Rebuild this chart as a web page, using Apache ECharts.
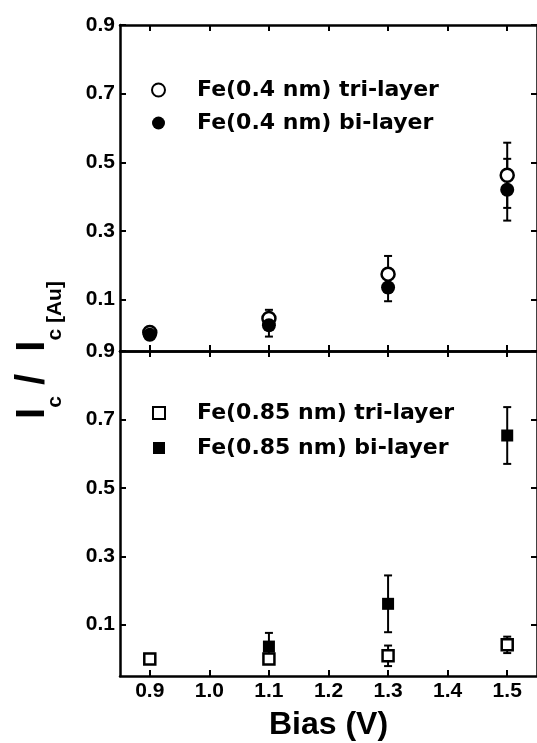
<!DOCTYPE html>
<html>
<head>
<meta charset="utf-8">
<script src="https://cdn.jsdelivr.net/npm/echarts@6/dist/echarts.min.js"></script>
<style>
  html, body { margin: 0; padding: 0; background: #fff; }
  #chart { width: 537px; height: 743px; }
</style>
</head>
<body>
<div id="chart"></div>
<script>
// bias voltage (x positions)
const biasV = [0.9, 1.1, 1.3, 1.5];
// tick labels
const xTicks = [0.9, 1.0, 1.1, 1.2, 1.3, 1.4, 1.5];
const yTicks = [0.1, 0.3, 0.5, 0.7, 0.9];

// upper panel: Fe(0.4 nm)
const tri04 = [0.004, 0.045, 0.174, 0.462];
const tri04Err = [0.005, 0.025, 0.053, 0.095];
const bi04 = [-0.003, 0.025, 0.135, 0.42];
const bi04Err = [0.005, 0.033, 0.04, 0.09];

// lower panel: Fe(0.85 nm)
const tri085 = [0.0, 0.0, 0.009, 0.041];
const tri085Err = [0.01, 0.012, 0.03, 0.024];
const bi085 = [0.0, 0.036, 0.161, 0.653];
const bi085Err = [0.005, 0.04, 0.083, 0.083];

const names = ['Fe(0.4 nm) tri-layer', 'Fe(0.4 nm) bi-layer', 'Fe(0.85 nm) tri-layer', 'Fe(0.85 nm) bi-layer'];

const font = '"Liberation Sans", Arial, Helvetica, sans-serif';

function pts(vals) {
  return biasV.map((x, i) => [x, vals[i]]);
}
function errs(vals, e) {
  return biasV.map((x, i) => [x, vals[i] - e[i], vals[i] + e[i]]);
}

// error bars drawn through the axis scales
function errRender(params, api) {
  const x = api.value(0);
  const top = api.coord([x, api.value(2)]);
  const bot = api.coord([x, api.value(1)]);
  const hw = 4;
  const st = { stroke: '#000', lineWidth: 2 };
  return {
    type: 'group',
    children: [
      { type: 'line', shape: { x1: top[0], y1: top[1], x2: bot[0], y2: bot[1] }, style: st },
      { type: 'line', shape: { x1: top[0] - hw, y1: top[1], x2: top[0] + hw, y2: top[1] }, style: st },
      { type: 'line', shape: { x1: bot[0] - hw, y1: bot[1], x2: bot[0] + hw, y2: bot[1] }, style: st }
    ]
  };
}

function xAx(grid, pos, showLabel) {
  return {
    type: 'value',
    gridIndex: grid,
    position: pos,
    min: 0.85,
    max: 1.55,
    name: showLabel ? 'Bias (V)' : '',
    nameLocation: 'middle',
    nameGap: 33,
    nameTextStyle: { fontFamily: font, fontWeight: 'bold', fontSize: 32, color: '#000' },
    axisLine: { onZero: false, lineStyle: { color: '#000', width: 2.5 } },
    axisTick: { inside: true, length: 6, customValues: xTicks, lineStyle: { color: '#000', width: 2 } },
    axisLabel: {
      show: showLabel,
      customValues: xTicks,
      margin: 5,
      fontFamily: font, fontWeight: 'bold', fontSize: 21, color: '#000',
      formatter: v => v.toFixed(1)
    },
    splitLine: { show: false }
  };
}

function yAx(grid, pos, showLabel) {
  return {
    type: 'value',
    gridIndex: grid,
    position: pos,
    min: -0.05,
    max: 0.9,
    axisLine: { onZero: false, lineStyle: { color: '#000', width: 2.5 } },
    axisTick: { inside: true, length: 6, customValues: yTicks, lineStyle: { color: '#000', width: 2 } },
    axisLabel: {
      show: showLabel,
      customValues: yTicks,
      margin: 5,
      fontFamily: font, fontWeight: 'bold', fontSize: 21, color: '#000',
      formatter: v => v.toFixed(1)
    },
    splitLine: { show: false }
  };
}

const legendText = { fontFamily: 'DejaVu Sans, sans-serif', fontWeight: 'bold', fontSize: 22, color: '#000', padding: [0, 0, 0, 27] };

let myChart = echarts.init(document.getElementById('chart'), null, { renderer: 'canvas' });
let option = {
  backgroundColor: '#fff',
  animation: false,
  grid: [
    { left: 120, right: -3, top: 25, height: 326 },
    { left: 120, right: -3, top: 351, height: 325 }
  ],
  xAxis: [
    xAx(0, 'bottom', false),
    xAx(0, 'top', false),
    xAx(1, 'bottom', true),
    xAx(1, 'top', false)
  ],
  yAxis: [
    yAx(0, 'left', true),
    yAx(0, 'right', false),
    yAx(1, 'left', true),
    yAx(1, 'right', false)
  ],
  legend: [
    {
      data: [names[0], names[1]],
      orient: 'vertical',
      left: 151,
      top: 79,
      padding: 0,
      itemGap: 11,
      itemWidth: 13,
      itemHeight: 13,
      symbolKeepAspect: true,
      textStyle: legendText
    },
    {
      data: [names[2], names[3]],
      orient: 'vertical',
      left: 152,
      top: 402,
      padding: 0,
      itemGap: 13,
      itemWidth: 12,
      itemHeight: 12,
      symbolKeepAspect: true,
      textStyle: legendText
    }
  ],
  graphic: [
    {
      type: 'text',
      x: 33,
      y: 350,
      rotation: Math.PI / 2,
      style: {
        text: '{a|I}{b|c}{a| /  I}{b|c [Au]}',
        align: 'center',
        verticalAlign: 'middle',
        fill: '#000',
        rich: {
          a: { fontFamily: font, fontWeight: 'bold', fontSize: 40, lineHeight: 40, verticalAlign: 'top' },
          b: { fontFamily: font, fontWeight: 'bold', fontSize: 21, lineHeight: 21, verticalAlign: 'top', padding: [32, 0, 0, 0] }
        }
      }
    }
  ],
  series: [
    // error bars
    { type: 'custom', xAxisIndex: 0, yAxisIndex: 0, renderItem: errRender, encode: { x: 0, y: [1, 2] }, data: errs(tri04, tri04Err), z: 1 },
    { type: 'custom', xAxisIndex: 0, yAxisIndex: 0, renderItem: errRender, encode: { x: 0, y: [1, 2] }, data: errs(bi04, bi04Err), z: 1 },
    { type: 'custom', xAxisIndex: 2, yAxisIndex: 2, renderItem: errRender, encode: { x: 0, y: [1, 2] }, data: errs(tri085, tri085Err), z: 1 },
    { type: 'custom', xAxisIndex: 2, yAxisIndex: 2, renderItem: errRender, encode: { x: 0, y: [1, 2] }, data: errs(bi085, bi085Err), z: 1 },
    // markers
    {
      name: names[0], type: 'scatter', xAxisIndex: 0, yAxisIndex: 0,
      symbol: 'circle', symbolSize: 13, symbolKeepAspect: true, z: 3,
      itemStyle: { color: '#fff', borderColor: '#000', borderWidth: 2.5, opacity: 1 },
      data: pts(tri04)
    },
    {
      name: names[1], type: 'scatter', xAxisIndex: 0, yAxisIndex: 0,
      symbol: 'circle', symbolSize: 14, symbolKeepAspect: true, z: 4,
      itemStyle: { color: '#000', borderColor: '#000', borderWidth: 0, opacity: 1 },
      data: pts(bi04)
    },
    {
      name: names[2], type: 'scatter', xAxisIndex: 2, yAxisIndex: 2,
      symbol: 'rect', symbolSize: 11, symbolKeepAspect: true, z: 4,
      itemStyle: { color: '#fff', borderColor: '#000', borderWidth: 2.5, opacity: 1 },
      data: pts(tri085)
    },
    {
      name: names[3], type: 'scatter', xAxisIndex: 2, yAxisIndex: 2,
      symbol: 'rect', symbolSize: 12, symbolKeepAspect: true, z: 3,
      itemStyle: { color: '#000', borderColor: '#000', borderWidth: 0, opacity: 1 },
      data: pts(bi085)
    }
  ]
};
myChart.setOption(option);
window.onresize = myChart.resize;
</script>
</body>
</html>
